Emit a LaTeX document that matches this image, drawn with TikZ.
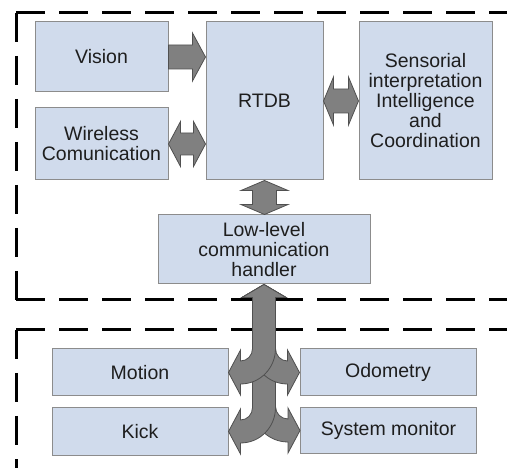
\documentclass[tikz,border=0pt]{standalone}
\usepackage{fontspec}
\setmainfont{Liberation Sans}
\usetikzlibrary{calc}

\definecolor{boxfill}{HTML}{D0DBEC}
\definecolor{boxline}{HTML}{8C8C8C}
\definecolor{arrowfill}{HTML}{808080}
\definecolor{arrowline}{HTML}{505050}
\definecolor{textcol}{HTML}{1E1E1E}

\tikzset{
  blockbox/.style={draw=boxline, fill=boxfill, line width=1pt, inner sep=0pt,
    align=center, text=textcol, font=\fontsize{19.5}{20}\selectfont},
  blockarrow/.style={draw=arrowline, fill=arrowfill, line width=0.8pt, line join=miter},
  zone/.style={line width=3pt, dash pattern=on 29pt off 14pt},
}

% single block arrow pointing right: #1 start, #2 tip, #3 half shaft, #4 half head, #5 head length
\newcommand\blockright[5]{%
  \draw[blockarrow] ($(#1)+(0,-#3)$) -- ($(#2)+(-#5,-#3)$) -- ($(#2)+(-#5,-#4)$) -- (#2)
    -- ($(#2)+(-#5,#4)$) -- ($(#2)+(-#5,#3)$) -- ($(#1)+(0,#3)$) -- cycle;}

% horizontal double block arrow between #1 (left tip) and #2 (right tip)
\newcommand\blockhboth[5]{%
  \draw[blockarrow] (#1) -- ($(#1)+(#5,-#4)$) -- ($(#1)+(#5,-#3)$) -- ($(#2)+(-#5,-#3)$)
    -- ($(#2)+(-#5,-#4)$) -- (#2) -- ($(#2)+(-#5,#4)$) -- ($(#2)+(-#5,#3)$)
    -- ($(#1)+(#5,#3)$) -- ($(#1)+(#5,#4)$) -- cycle;}

% vertical double block arrow between #1 (top tip) and #2 (bottom tip)
\newcommand\blockvboth[5]{%
  \draw[blockarrow] (#1) -- ($(#1)+(#4,#5)$) -- ($(#1)+(#3,#5)$) -- ($(#2)+(#3,-#5)$)
    -- ($(#2)+(#4,-#5)$) -- (#2) -- ($(#2)+(-#4,-#5)$) -- ($(#2)+(-#3,-#5)$)
    -- ($(#1)+(-#3,#5)$) -- ($(#1)+(-#4,#5)$) -- cycle;}

% bent block arrow: up-head at #1, stem going down, bending sideways to the tip #2;
% #3 = -1 bends to the left, +1 bends to the right
\newcommand\forkbranch[3]{%
  \coordinate (fk) at (#1 |- #2);
  \draw[blockarrow] (#1) -- ($(#1)+({-(#3)*22},13)$) -- ($(#1)+({-(#3)*11.5},13)$)
    -- ($(fk)+({-(#3)*11.5},-24)$)
    .. controls +(0,19.6) and ($(#2)+({-(#3)*31.6},11.5)$) .. ($(#2)+({-(#3)*12},11.5)$)
    -- ($(#2)+({-(#3)*12},22.5)$) -- (#2) -- ($(#2)+({-(#3)*12},-22.5)$)
    -- ($(#2)+({-(#3)*12},-11.5)$)
    .. controls ($(#2)+({-(#3)*18.9},-11.5)$) and ($(fk)+({(#3)*11.5},-17.1)$) .. ($(fk)+({(#3)*11.5},-24)$)
    -- ($(#1)+({(#3)*11.5},13)$) -- ($(#1)+({(#3)*22},13)$) -- cycle;}

\begin{document}
\begin{tikzpicture}[x=1pt, y=-1pt]
  \useasboundingbox (0,0) rectangle (507,468);

  % dashed zones
  \draw[zone] (16,13) -- (530,13);
  \draw[zone] (16,13) -- (16,300);
  \draw[zone] (16,300) -- (530,300);
  \draw[zone] (16,330) -- (530,330);
  \draw[zone] (16,330) -- (16,480);

  % upper zone
  \node[blockbox, minimum width=133pt, minimum height=70pt] (vision) at (101.5,57) {Vision};
  \node[blockbox, minimum width=117pt, minimum height=158pt] (rtdb) at (264.5,101) {RTDB};
  \node[blockbox, minimum width=133pt, minimum height=158pt] (sens) at (425.5,101)
    {Sensorial\\interpretation\\Intelligence\\and\\Coordination};
  \node[blockbox, minimum width=133pt, minimum height=72pt] (wireless) at (101.5,144)
    {Wireless\\Comunication};
  \node[blockbox, minimum width=212pt, minimum height=69pt] (low) at (264,249.5)
    {Low-level\\communication\\handler};

  % lower zone
  \node[blockbox, minimum width=176pt, minimum height=47pt] (motion) at (140,372.5) {Motion};
  \node[blockbox, minimum width=176pt, minimum height=47pt] (odo) at (388,372.5) {Odometry};
  \node[blockbox, minimum width=176pt, minimum height=47pt] (kick) at (140,431.5) {Kick};
  \node[blockbox, minimum width=176pt, minimum height=46pt] (sysmon) at (388.5,430.5) {System monitor};

  % connectors
  \blockright{vision.east}{rtdb.west |- vision.east}{12}{24}{13}
  \blockhboth{wireless.east}{rtdb.west |- wireless.east}{11}{22.5}{12}
  \blockhboth{rtdb.east}{sens.west}{12}{24}{10}
  \blockvboth{rtdb.south}{rtdb.south |- low.north}{12}{23.5}{10}

  \forkbranch{low.south}{sysmon.west}{1}
  \forkbranch{low.south}{kick.east}{-1}
  \forkbranch{low.south}{odo.west}{1}
  \forkbranch{low.south}{motion.east}{-1}
\end{tikzpicture}
\end{document}
